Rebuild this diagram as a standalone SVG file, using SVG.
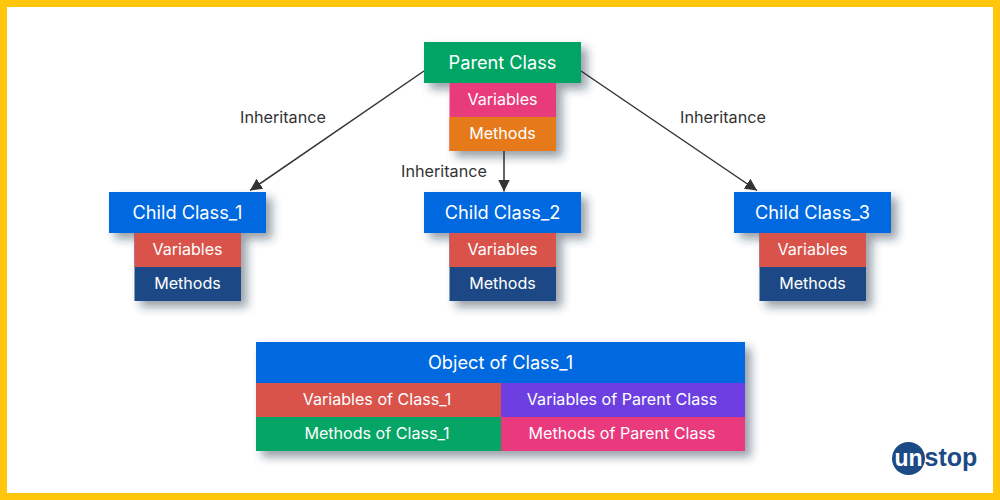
<svg xmlns="http://www.w3.org/2000/svg" width="1000" height="500" viewBox="0 0 1000 500">
<defs>
<filter id="sh" x="-20%" y="-20%" width="150%" height="170%"><feDropShadow dx="6" dy="6" stdDeviation="5" flood-color="#1a2a40" flood-opacity="0.45"/></filter>
<marker id="ah" markerUnits="userSpaceOnUse" markerWidth="13" markerHeight="12" refX="12" refY="6" orient="auto"><path d="M0 0L12 6L0 12Z" fill="#333"/></marker>
</defs>
<style>
text{font-family:Inter,"Liberation Sans",sans-serif;text-anchor:middle}
.t{font-size:18.200px;fill:#fff}
.s{font-size:16.100px;fill:#fff}
.l{font-size:16.200px;fill:#333}
.c{stroke:#333;stroke-width:1.5;fill:none;marker-end:url(#ah)}
.logo{font-family:"Liberation Sans",sans-serif;font-weight:700;font-size:25px}
</style>
<rect width="1000" height="500" fill="#ffc60b"/>
<rect x="7" y="7" width="986" height="486" fill="#fff"/>
<g id="connectors">
<path class="c" d="M424 71L250 190.500"/>
<path class="c" d="M504 151V191.500"/>
<path class="c" d="M581 71L757 190.500"/>
</g>
<g id="parent-class">
<g filter="url(#sh)"><rect x="449.500" y="83" width="106.500" height="68" fill="#e83a7c"/><rect x="424" y="42" width="157" height="41" fill="#05a565"/></g>
<rect x="449.500" y="117" width="106.500" height="34" fill="#e67a1b"/>
<text class="t" x="502.500" y="69">Parent Class</text><text class="s" x="502.500" y="104.500">Variables</text><text class="s" x="502.500" y="138.500">Methods</text>
</g>
<g id="child-class-1">
<g filter="url(#sh)"><rect x="134.500" y="233" width="106.500" height="68" fill="#1c4a85"/><rect x="109" y="192" width="157" height="41" fill="#0069e0"/></g>
<rect x="134.500" y="233" width="106.500" height="34" fill="#d9534a"/>
<text class="t" x="187.500" y="219">Child Class_1</text><text class="s" x="187.500" y="254.500">Variables</text><text class="s" x="187.500" y="288.500">Methods</text>
</g>
<g id="child-class-2">
<g filter="url(#sh)"><rect x="449.500" y="233" width="106.500" height="68" fill="#1c4a85"/><rect x="424" y="192" width="157" height="41" fill="#0069e0"/></g>
<rect x="449.500" y="233" width="106.500" height="34" fill="#d9534a"/>
<text class="t" x="502.500" y="219">Child Class_2</text><text class="s" x="502.500" y="254.500">Variables</text><text class="s" x="502.500" y="288.500">Methods</text>
</g>
<g id="child-class-3">
<g filter="url(#sh)"><rect x="759.500" y="233" width="106.500" height="68" fill="#1c4a85"/><rect x="734" y="192" width="157" height="41" fill="#0069e0"/></g>
<rect x="759.500" y="233" width="106.500" height="34" fill="#d9534a"/>
<text class="t" x="812.500" y="219">Child Class_3</text><text class="s" x="812.500" y="254.500">Variables</text><text class="s" x="812.500" y="288.500">Methods</text>
</g>
<g id="labels">
<text class="l" x="283" y="122.500">Inheritance</text>
<text class="l" x="444" y="176.500">Inheritance</text>
<text class="l" x="723" y="122.500">Inheritance</text>
</g>
<g id="object-of-class-1">
<rect x="256" y="342" width="489" height="109" fill="#0069e0" filter="url(#sh)"/>
<rect x="256" y="383" width="245" height="34" fill="#d9534a"/>
<rect x="501" y="383" width="244" height="34" fill="#6d3fe0"/>
<rect x="256" y="417" width="245" height="34" fill="#05a565"/>
<rect x="501" y="417" width="244" height="34" fill="#e83a7c"/>
<text class="t" x="500.500" y="369">Object of Class_1</text>
<text class="s" x="377" y="404.500">Variables of Class_1</text>
<text class="s" x="622" y="404.500">Variables of Parent Class</text>
<text class="s" x="377" y="438.500">Methods of Class_1</text>
<text class="s" x="622" y="438.500">Methods of Parent Class</text>
</g>
<g id="logo">
<circle cx="908.500" cy="458.500" r="16.500" fill="#1c4a85"/>
<text class="logo" x="908.500" y="466" fill="#fff" style="font-size:23px">un</text>
<text class="logo" x="951" y="466" fill="#1c4a85">stop</text>
</g>
</svg>
